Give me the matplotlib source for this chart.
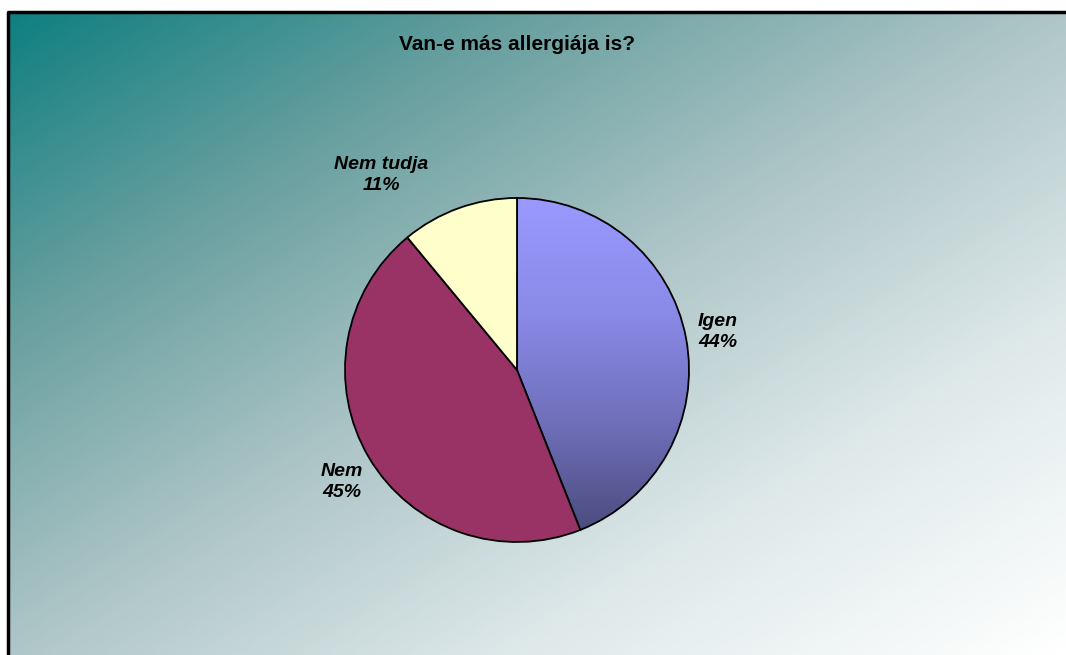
import numpy as np
import matplotlib.pyplot as plt
from matplotlib.colors import LinearSegmentedColormap

# data
labels = ['Igen', 'Nem', 'Nem tudja']
values = [44, 45, 11]
colors = ['#9999ff', '#993366', '#ffffcc']
title = 'Van-e más allergiája is?'

plt.rcParams['font.family'] = ['Liberation Sans', 'DejaVu Sans']

W, H = 1066, 655
fig = plt.figure(figsize=(W / 100, H / 100), dpi=100)
ax = fig.add_axes([0, 0, 1, 1])
ax.set_xlim(0, W)
ax.set_ylim(0, H)
ax.axis('off')

# chart area background: diagonal teal -> white gradient
x0, x1, y0, y1 = 8, W, 0, H - 12
bg_cmap = LinearSegmentedColormap.from_list(
    'bg', [(0, '#0f7f80'), (0.25, '#6aa0a0'), (0.5, '#afc6c8'),
           (0.75, '#e0eaeb'), (1, '#ffffff')])
gx, gy = np.meshgrid(np.linspace(0, 1, 300), np.linspace(0, 1, 200))
ax.imshow((gx + gy) / 2, cmap=bg_cmap, extent=[x0, x1, y0, y1],
          origin='upper', aspect='auto', zorder=0, interpolation='bilinear')
ax.plot([x0, x0, x1], [y0, y1, y1], color='black', lw=2.5, zorder=1,
        solid_capstyle='butt')

ax.text(517, H - 44, title, ha='center', va='center', fontsize=15,
        fontweight='bold', zorder=5)

# pie
cx, cy, r = 517, H - 370, 172
wedges, _ = ax.pie(values, colors=colors, startangle=90, counterclock=False,
                   center=(cx, cy), radius=r, frame=True,
                   wedgeprops=dict(edgecolor='black', linewidth=1.3))
ax.set_xlim(0, W)
ax.set_ylim(0, H)
ax.set_aspect('equal')
ax.axis('off')
for w in wedges:
    w.set_zorder(3)

# vertical shading on the first slice
grad_cmap = LinearSegmentedColormap.from_list(
    'igen', ['#9999ff', '#8a8ae8', '#6e6eb8', '#484878'])
ig = wedges[0]
ig.set_facecolor('none')
img = ax.imshow(np.linspace(0, 1, 256).reshape(-1, 1), cmap=grad_cmap,
                extent=[cx, cx + r, cy - r, cy + r], origin='upper',
                aspect='auto', zorder=2, interpolation='bilinear')
img.set_clip_path(ig)

# labels: placed near each slice's mid angle
label_dist = [1.19, 1.21, 1.38]
label_shift = [0, 2, 15]
for w, lab, v, d, s in zip(wedges, labels, values, label_dist, label_shift):
    ang = np.deg2rad((w.theta1 + w.theta2) / 2 + s)
    ax.text(cx + d * r * np.cos(ang), cy + d * r * np.sin(ang),
            f'{lab}\n{v}%', ha='center', va='center', fontsize=14,
            fontweight='bold', fontstyle='italic', linespacing=1.3,
            zorder=5)

fig.savefig('out.png', dpi=100)
